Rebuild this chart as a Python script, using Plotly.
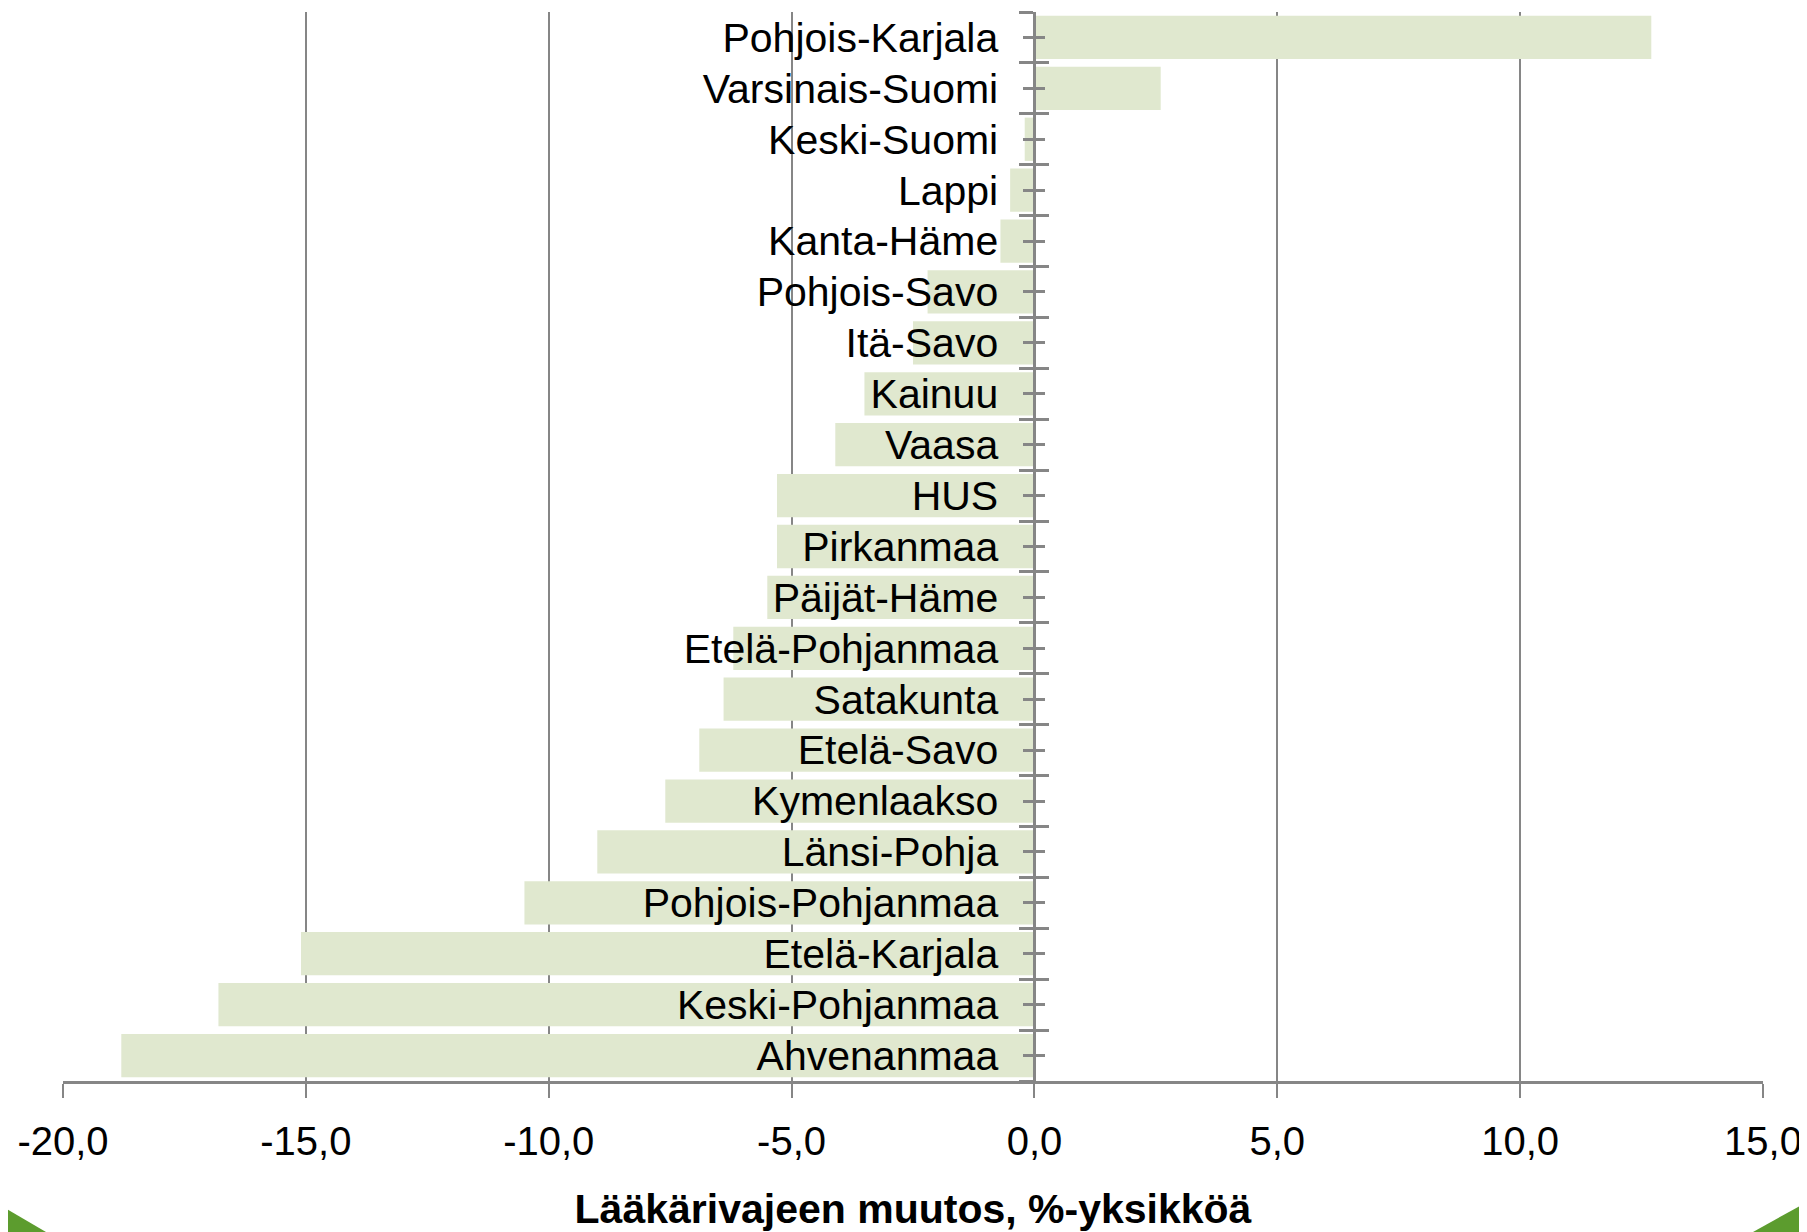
import plotly.graph_objects as go

regions = ["Pohjois-Karjala", "Varsinais-Suomi", "Keski-Suomi", "Lappi", "Kanta-Häme",
           "Pohjois-Savo", "Itä-Savo", "Kainuu", "Vaasa", "HUS", "Pirkanmaa",
           "Päijät-Häme", "Etelä-Pohjanmaa", "Satakunta", "Etelä-Savo", "Kymenlaakso",
           "Länsi-Pohja", "Pohjois-Pohjanmaa", "Etelä-Karjala", "Keski-Pohjanmaa", "Ahvenanmaa"]
values = [12.7, 2.6, -0.2, -0.5, -0.7, -2.2, -2.5, -3.5, -4.1, -5.3, -5.3,
          -5.5, -6.2, -6.4, -6.9, -7.6, -9.0, -10.5, -15.1, -16.8, -18.8]
x_tickvals = [-20, -15, -10, -5, 0, 5, 10, 15]
x_ticktext = ["-20,0", "-15,0", "-10,0", "-5,0", "0,0", "5,0", "10,0", "15,0"]
x_title = "Lääkärivajeen muutos, %-yksikköä"

W, H = 1807, 1232
OFF = 8  # page body margin offset
L, R, T, B = 63 - OFF, 44 + OFF, 12 - OFF, 151 + OFF
n = len(regions)
ypos = [n - 1 - i for i in range(n)]
xmin, xmax = -20, 15
GRAY = "#868686"
FONT = "Liberation Sans, Arial, sans-serif"

fig = go.Figure()
fig.add_trace(go.Bar(x=values, y=ypos, orientation="h", marker=dict(color="#e0e8cf", line=dict(width=0)),
                     hoverinfo="skip", showlegend=False))
fig.add_trace(go.Bar(x=values, y=ypos, orientation="h", yaxis="y2", opacity=0,
                     hoverinfo="skip", showlegend=False))

pw = W - L - R
ph = H - T - B


def paper_x(px):
    return (px - OFF - L) / pw


def paper_y(py):
    return (H - B - (py - OFF)) / ph


green = "#5c9c2e"
tri_left = f"M {paper_x(0)} {paper_y(1205)} L {paper_x(46)} {paper_y(1232)} L {paper_x(0)} {paper_y(1232)} Z"
tri_right = f"M {paper_x(1753)} {paper_y(1232)} L {paper_x(1807)} {paper_y(1202)} L {paper_x(1807)} {paper_y(1232)} Z"

ypos_frac = (0 - xmin) / (xmax - xmin)
yrange = [-0.5, n - 0.5]
half = [k + 0.5 for k in range(-1, n)]

common_y = dict(range=yrange, anchor="free", position=ypos_frac, showgrid=False, zeroline=False,
                showline=True, linecolor=GRAY, linewidth=3)

fig.update_layout(
    width=W, height=H,
    margin=dict(l=L, r=R, t=T, b=B),
    plot_bgcolor="white", paper_bgcolor="white",
    bargap=0.15,
    font=dict(family=FONT, color="black"),
    xaxis=dict(range=[xmin, xmax], tickvals=x_tickvals, ticktext=x_ticktext,
               showgrid=True, gridcolor=GRAY, gridwidth=2, zeroline=False,
               showline=True, linecolor=GRAY, linewidth=3,
               ticks="outside", ticklen=14, tickwidth=2, tickcolor=GRAY,
               tickfont=dict(size=40, family=FONT, color="black"), ticklabelstandoff=9,
               title=dict(text="<b>" + x_title + "</b>", font=dict(size=41, family=FONT, color="black"),
                          standoff=33)),
    yaxis=dict(**common_y, tickmode="array", tickvals=ypos, ticktext=regions,
               ticks="outside", ticklen=10, tickwidth=3, tickcolor=GRAY,
               minor=dict(tickmode="array", tickvals=half, ticks="outside", ticklen=14,
                          tickwidth=3, tickcolor=GRAY),
               tickfont=dict(size=41, family=FONT, color="black"), ticklabelstandoff=17),
    yaxis2=dict(**common_y, overlaying="y", tickmode="array", tickvals=ypos, ticktext=["" for _ in ypos],
                ticks="inside", ticklen=9, tickwidth=3, tickcolor=GRAY,
                minor=dict(tickmode="array", tickvals=half, ticks="inside", ticklen=13,
                           tickwidth=3, tickcolor=GRAY),
                showticklabels=False),
    shapes=[
        dict(type="path", xref="paper", yref="paper", path=tri_left, fillcolor=green, line=dict(width=0), layer="above"),
        dict(type="path", xref="paper", yref="paper", path=tri_right, fillcolor=green, line=dict(width=0), layer="above"),
    ],
)

fig.write_html("out.html")
